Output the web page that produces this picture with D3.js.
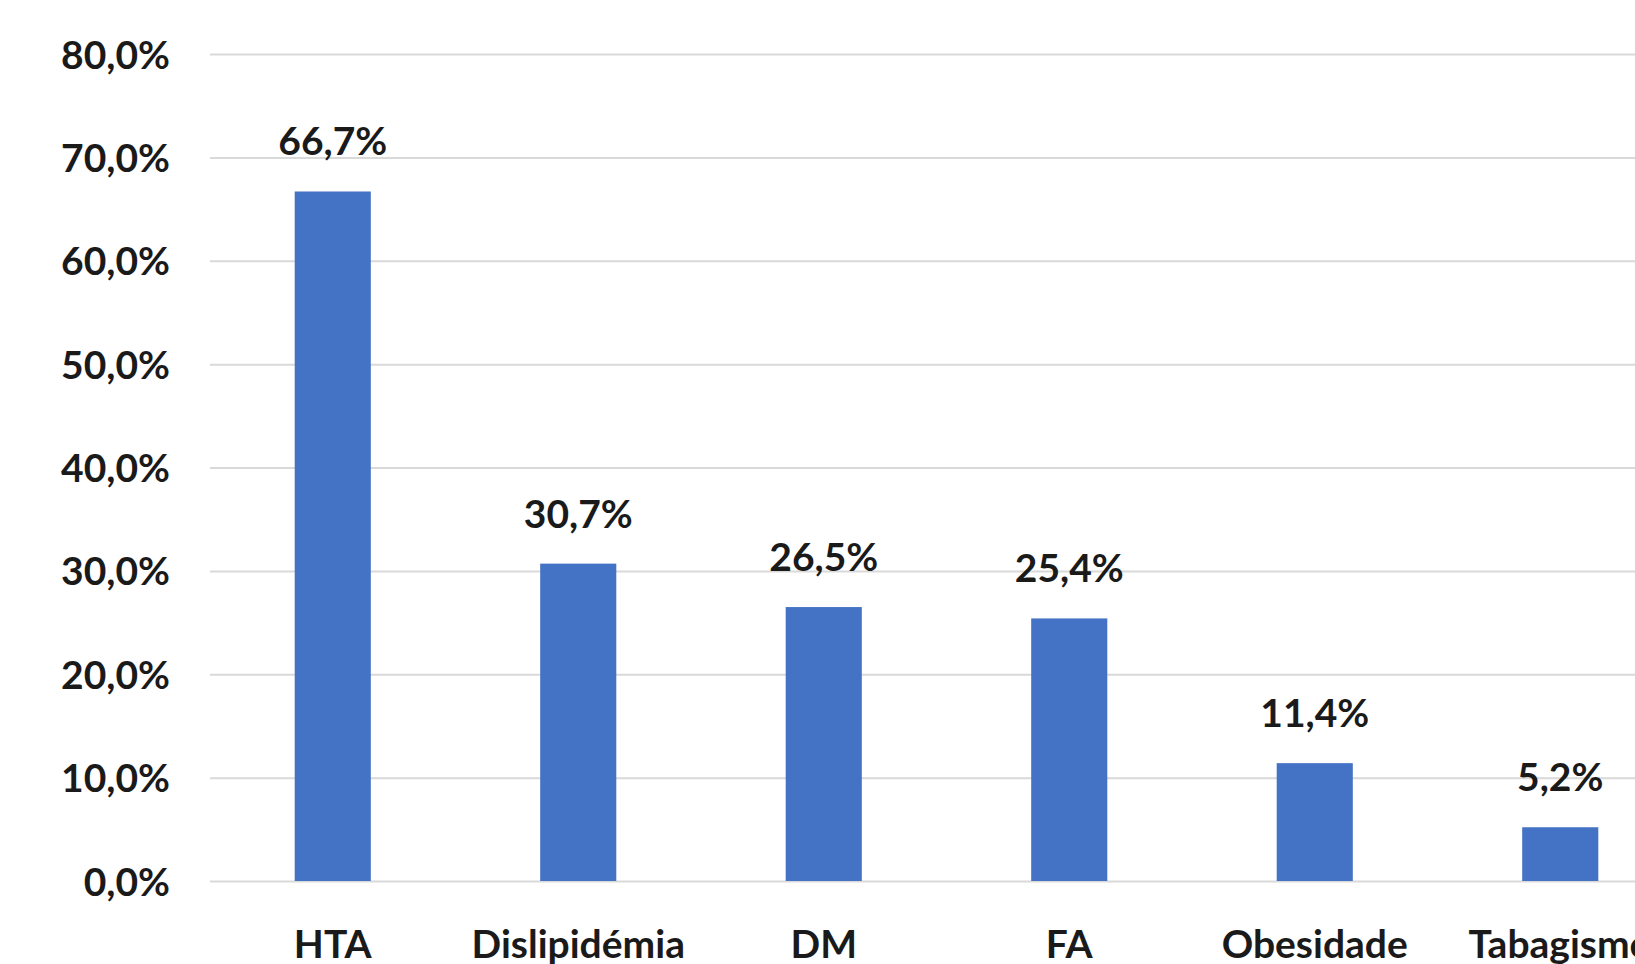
<!DOCTYPE html>
<html>
<head>
<meta charset="utf-8">
<script src="https://cdn.jsdelivr.net/npm/d3@7"></script>
<style>
  body { margin: 0; background: #ffffff; overflow: hidden; }
  svg { display: block; }
  text { font-family: Lato, "Open Sans", sans-serif; font-weight: 700; fill: #1a1a1a; }
</style>
</head>
<body>
<svg></svg>
<script>
var categories = ["HTA", "Dislipidémia", "DM", "FA", "Obesidade", "Tabagismo"];
var values = [66.7, 30.7, 26.5, 25.4, 11.4, 5.2];
var yTicks = [0, 10, 20, 30, 40, 50, 60, 70, 80];

var svgWidth = 1635;
var svgHeight = 964;

var svg = d3.select("svg")
    .attr("width", svgWidth)
    .attr("height", svgHeight);

// plot area runs past the right edge, the picture is cropped there
var plotLeft = 210, plotRight = 1683, plotTop = 54, plotBottom = 881;

var xScale = d3.scaleBand()
    .domain(categories)
    .range([plotLeft, plotRight])
    .paddingInner(0.69)
    .paddingOuter(0.345);

var yScale = d3.scaleLinear()
    .domain([0, 80])
    .range([plotBottom, plotTop]);

var pct = function(d) { return d3.format(".1f")(d).replace(".", ",") + "%"; };

var yAxis = d3.axisLeft(yScale)
    .tickValues(yTicks)
    .tickFormat(pct)
    .tickSize(-(plotRight - plotLeft))
    .tickPadding(40);

var gy = svg.append("g")
    .attr("transform", "translate(" + plotLeft + ",0)")
    .call(yAxis);

gy.select(".domain").remove();
gy.selectAll(".tick line")
    .attr("stroke", "#d9d9d9")
    .attr("stroke-width", 2);
gy.selectAll(".tick text")
    .attr("font-size", 39)
    .attr("dy", "0.36em")
    .style("font-family", "Lato, sans-serif")
    .attr("fill", "#1a1a1a");

var xAxis = d3.axisBottom(xScale).tickSize(0);

var gx = svg.append("g")
    .attr("transform", "translate(0," + plotBottom + ")")
    .call(xAxis);

gx.select(".domain").remove();
gx.selectAll(".tick text")
    .attr("font-size", 39)
    .attr("y", 77)
    .attr("dy", 0)
    .style("font-family", "Lato, sans-serif")
    .attr("fill", "#1a1a1a");

svg.selectAll("rect.bar")
    .data(values)
    .enter()
    .append("rect")
    .attr("class", "bar")
    .attr("x", function(d, i) { return xScale(categories[i]); })
    .attr("y", function(d) { return yScale(d); })
    .attr("width", xScale.bandwidth())
    .attr("height", function(d) { return plotBottom - yScale(d); })
    .attr("fill", "#4472c4");

svg.selectAll("text.val")
    .data(values)
    .enter()
    .append("text")
    .attr("class", "val")
    .attr("x", function(d, i) { return xScale(categories[i]) + xScale.bandwidth() / 2; })
    .attr("y", function(d) { return yScale(d) - 36; })
    .attr("text-anchor", "middle")
    .attr("font-size", 39)
    .text(pct);
</script>
</body>
</html>
